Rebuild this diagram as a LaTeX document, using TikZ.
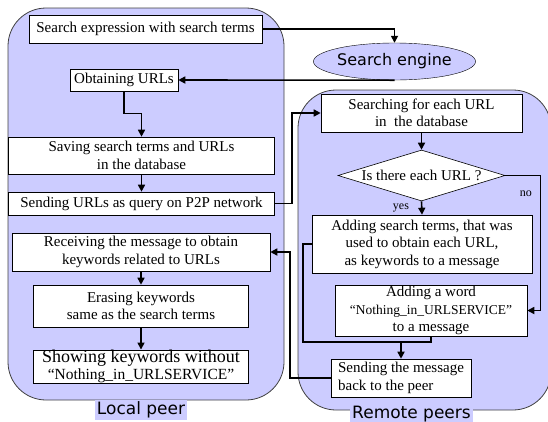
\documentclass[tikz,border=0pt]{standalone}
\usepackage{fontspec}
\setmainfont{Liberation Serif}
\newfontfamily\peerfont{DejaVu Sans}
\usetikzlibrary{shapes.geometric,arrows.meta}
\definecolor{peerblue}{RGB}{204,204,255}

\begin{document}
\begin{tikzpicture}[x=1pt,y=-1pt,
    every node/.style={inner sep=0pt,font=\fontsize{15}{17.5}\selectfont},
    box/.style={draw,fill=white,align=center,line width=0.6pt},
    peer/.style={draw=black!75,fill=peerblue,rounded corners=38pt,line width=0.8pt},
    peerlabel/.style={fill=peerblue,inner sep=2pt,font=\peerfont\fontsize{17}{17}\selectfont},
    answer/.style={font=\fontsize{12}{12}\selectfont},
    arr/.style={line width=1.6pt,-{Triangle[length=7pt,width=7pt]}},
    line/.style={line width=1.6pt}]
  \useasboundingbox (0,0) rectangle (548,421);

  % the two peers
  \draw[peer] (8,8) rectangle (284,400);
  \draw[peer] (298,90) rectangle (551,410);
  \node[peerlabel] (local) at (141,410) {Local peer};
  \node[peerlabel] (remote) at (411.5,414) {Remote peers};

  \node[ellipse,draw,fill=peerblue,minimum width=137pt,minimum height=37pt,
        font=\peerfont\fontsize{16}{16}\selectfont] (engine) at (394.5,61.5) {Search engine};

  % local peer
  \node[box,minimum width=233pt,minimum height=28pt] (query) at (145.5,29)
    {Search expression with search terms};
  \node[box,minimum width=108pt,minimum height=22pt] (obtain) at (124,80) {Obtaining URLs};
  \node[box,minimum width=266pt,minimum height=37pt] (save) at (141.5,155.5)
    {Saving search terms and URLs\\in the database};
  \node[box,minimum width=266pt,minimum height=23pt] (send) at (141.5,203.5)
    {Sending URLs as query on P2P network};
  \node[box,minimum width=258pt,minimum height=38pt] (receive) at (141,252)
    {Receiving the message to obtain\\keywords related to URLs};
  \node[box,minimum width=215pt,minimum height=42pt] (erase) at (141,306)
    {Erasing keywords\\same as the search terms};
  \node[box,minimum width=215pt,minimum height=33pt] (show) at (141,366.5)
    {{\fontsize{18}{19}\selectfont Showing keywords without}\\
     {\fontsize{15.5}{15}\selectfont “Nothing\_in\_URLSERVICE”}};

  % remote peers
  \node[box,minimum width=201pt,minimum height=38pt] (lookup) at (421.5,113)
    {Searching for each URL\\in\ \ the database};
  \node[diamond,draw,fill=white,aspect=3.3,minimum width=167pt,minimum height=51pt,
        line width=0.6pt] (check) at (421.5,175.5) {Is there each URL ?};
  \node[box,minimum width=220pt,minimum height=58pt] (addterms) at (422,244)
    {Adding search terms, that was\\used to obtain each URL,\\as keywords to a message};
  \node[box,minimum width=192pt,minimum height=51pt] (addword) at (431,310.5)
    {Adding a word\\{\fontsize{13.5}{15}\selectfont “Nothing\_in\_URLSERVICE”}\\to a message};
  \node[box,minimum width=140pt,minimum height=38pt,align=left] (reply) at (401,378)
    {Sending the message\\back to the peer};
  \coordinate (join) at ([yshift=17pt]reply.north);

  % connectors
  \draw[arr] (query.east) -| (engine.north);
  \draw[arr] (engine.south) -- (obtain.east);
  \draw[arr] (obtain.south) -- ++(0,22) -| (save.north);
  \draw[arr] (save.south) -- (send.north);
  \draw[arr] (send.east) -- ++(17,0) |- (lookup.west);
  \draw[arr] (lookup.south) -- (check.north);
  \draw[arr] (check.east) -- node[answer,below=15pt,xshift=3pt] {no} ++(35,0) |- (addword.east);
  \draw[arr] (check.south) -- node[answer,left=12pt] {yes} (addterms.north);
  \draw[line] (addterms.west) -- ++(-9,0) |- (join);
  \draw[line] (addword.south) |- (join);
  \draw[arr] (join) -- (reply.north);
  \draw[arr] (reply.west) -- ++(-41,0) |- (receive.east);
  \draw[arr] (receive.south) -- (erase.north);
  \draw[arr] (erase.south) -- (show.north);
\end{tikzpicture}
\end{document}
